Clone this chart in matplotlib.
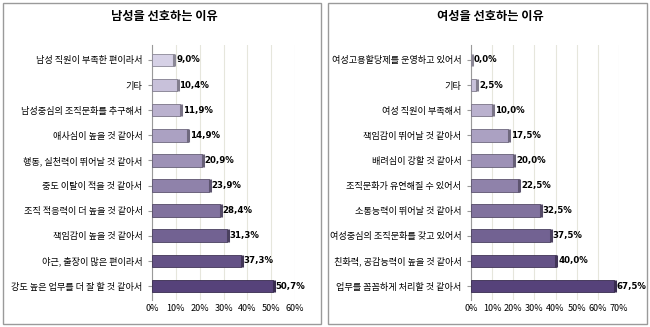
import matplotlib
matplotlib.use("Agg")
import matplotlib.pyplot as plt
from matplotlib.patches import Rectangle
import matplotlib.colors as mcolors
import numpy as np

plt.rcParams['font.family'] = ['Noto Sans CJK KR', 'DejaVu Sans']

male_title = "남성을 선호하는 이유"
male_cats = ["남성 직원이 부족한 편이라서", "기타", "남성중심의 조직문화를 추구해서",
             "애사심이 높을 것 같아서", "행동, 실천력이 뛰어날 것 같아서",
             "중도 이탈이 적을 것 같아서", "조직 적응력이 더 높을 것 같아서",
             "책임감이 높을 것 같아서", "야근, 출장이 많은 편이라서",
             "강도 높은 업무를 더 잘 할 것 같아서"]
male_vals = [9.0, 10.4, 11.9, 14.9, 20.9, 23.9, 28.4, 31.3, 37.3, 50.7]
male_ticks = [0, 10, 20, 30, 40, 50, 60]

female_title = "여성을 선호하는 이유"
female_cats = ["여성고용할당제를 운영하고 있어서", "기타", "여성 직원이 부족해서",
               "책임감이 뛰어날 것 같아서", "배려심이 강할 것 같아서",
               "조직문화가 유연해질 수 있어서", "소통능력이 뛰어날 것 같아서",
               "여성중심의 조직문화를 갖고 있어서", "친화력, 공감능력이 높을 것 같아서",
               "업무를 꼼꼼하게 처리할 것 같아서"]
female_vals = [0.0, 2.5, 10.0, 17.5, 20.0, 22.5, 32.5, 37.5, 40.0, 67.5]
female_ticks = [0, 10, 20, 30, 40, 50, 60, 70]

fig = plt.figure(figsize=(6.5, 3.27), dpi=100)

# panel borders
for x0 in (0.004, 0.505):
    fig.patches.append(Rectangle((x0, 0.008), 0.49, 0.984, transform=fig.transFigure,
                                 fill=False, edgecolor='#9a9a9a', linewidth=1.0))

light = np.array(mcolors.to_rgb('#d6d1e6'))
dark = np.array(mcolors.to_rgb('#56427a'))

def draw(ax, cats, vals, ticks, title, tx):
    n = len(cats)
    y = np.arange(n)[::-1]
    cols = [tuple(light + (dark - light) * i / (n - 1)) for i in range(n)]
    edge = [tuple(np.clip((np.array(c) * 0.65), 0, 1)) for c in cols]
    xmax = ticks[-1]
    dx = xmax * 0.006
    ax.barh(y, vals, height=0.5, color=cols, edgecolor=edge, linewidth=0.6, zorder=3)
    for yi, v, e in zip(y, vals, edge):
        ax.plot([v + dx, v + dx], [yi - 0.25, yi + 0.25], color=e, lw=2.2, zorder=4,
                solid_capstyle='butt')
        ax.text(v + dx * 3.0, yi, f"{v:.1f}%".replace('.', ','), va='center', ha='left',
                fontsize=6.2, fontweight='bold', zorder=5, family=['DejaVu Sans'])
    ax.set_yticks(y)
    ax.set_yticklabels(cats, fontsize=6.6)
    ax.set_xticks(ticks)
    ax.set_xticklabels([f"{t}%" for t in ticks], fontsize=6.5)
    ax.set_xlim(0, xmax)
    ax.set_ylim(-0.55, n - 0.4)
    ax.grid(axis='x', color='#e6e6dc', linewidth=0.8, zorder=0)
    for s in ('top', 'right', 'bottom'):
        ax.spines[s].set_visible(False)
    ax.spines['left'].set_color('#9a9a9a')
    ax.tick_params(axis='y', length=3, color='#9a9a9a', pad=4)
    ax.tick_params(axis='x', length=0, pad=3)
    fig.text(tx, 0.95, title, ha='center', va='center', fontsize=8.8, fontweight='bold')

ax1 = fig.add_axes([0.234, 0.083, 0.220, 0.78])
draw(ax1, male_cats, male_vals, male_ticks, male_title, 0.253)
ax2 = fig.add_axes([0.7246, 0.083, 0.2277, 0.78])
draw(ax2, female_cats, female_vals, female_ticks, female_title, 0.755)

fig.savefig("out.png", dpi=100)
